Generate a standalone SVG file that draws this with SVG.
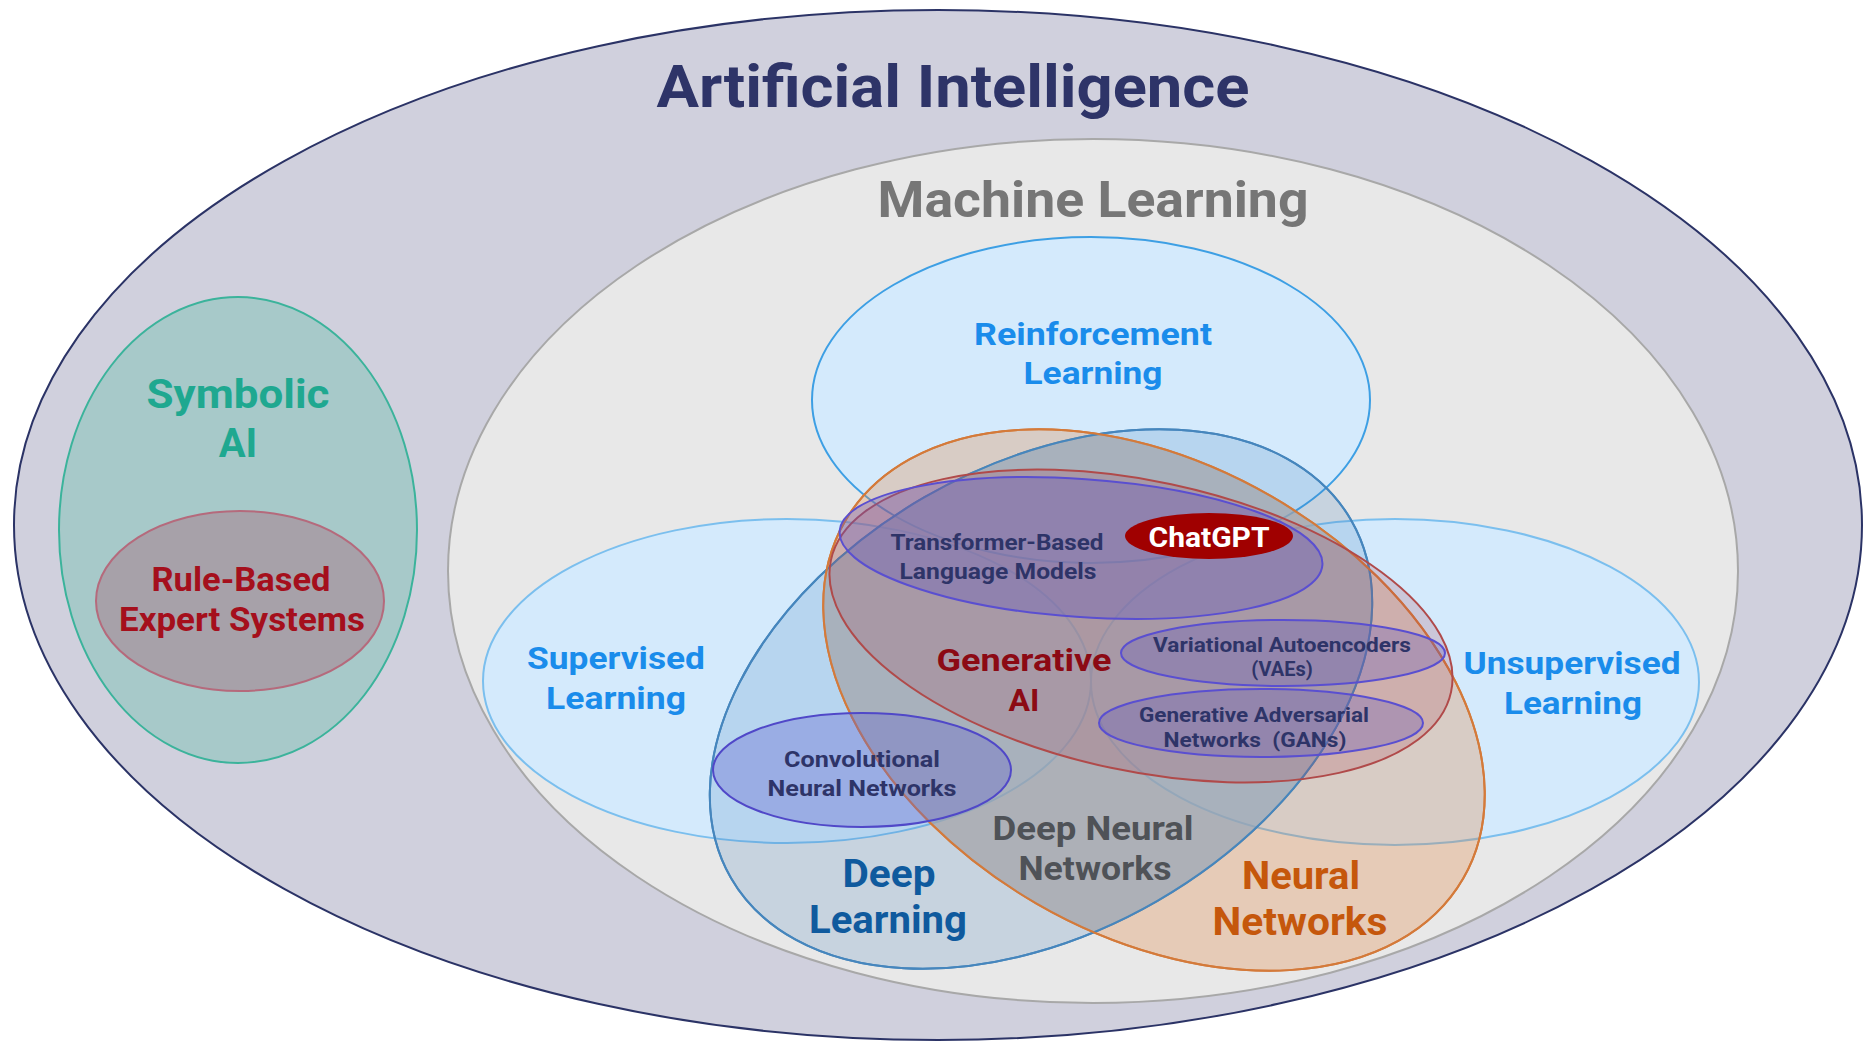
<svg xmlns="http://www.w3.org/2000/svg" width="1863" height="1042" viewBox="0 0 1863 1042">
<style>
text{font-family:Roboto,"Open Sans","Liberation Sans",sans-serif;font-weight:700;text-anchor:middle}
.ai{fill:#d0d0dd;stroke:#2b3366;stroke-width:2}
.ml{fill:#e8e8e8;stroke:#a8a8a8;stroke-width:2}
.lbl{fill:#d4eafc;stroke-width:2}
.blue{fill:#1a8ceb}
.navy{fill:#2e3468}
.sub{fill:rgba(100,90,190,0.3);stroke:#5a4fd0;stroke-width:2}
.dl{fill:rgba(70,130,190,0.2);stroke:#4686bd;stroke-width:2}
.nn{fill:rgba(225,135,70,0.3);stroke:#d47a3a;stroke-width:2}
</style>
<defs>
<ellipse id="dlShape" cx="1041" cy="699" rx="358" ry="233" transform="rotate(-30 1041 699)"/>
<ellipse id="nnShape" cx="1154" cy="700" rx="357" ry="235" transform="rotate(30 1154 700)"/>
<clipPath id="nnClip"><use href="#nnShape"/></clipPath>
</defs>
<rect width="1863" height="1042" fill="#ffffff"/>
<g id="artificial-intelligence">
<ellipse class="ai" cx="938" cy="525" rx="924" ry="515"/>
<text class="navy" x="953" y="107" font-size="59" textLength="593" lengthAdjust="spacingAndGlyphs">Artificial Intelligence</text>
</g>
<g id="symbolic-ai">
<ellipse cx="238" cy="530" rx="179" ry="233" fill="#a7c9c9" stroke="#3bb39b" stroke-width="2"/>
<text font-size="40" fill="#1fa890"><tspan x="238" y="408" textLength="183" lengthAdjust="spacingAndGlyphs">Symbolic</tspan><tspan x="238" y="457">AI</tspan></text>
</g>
<g id="rule-based-expert-systems">
<ellipse cx="240" cy="601" rx="144" ry="90" fill="#a7a1a9" stroke="#b56a7c" stroke-width="2"/>
<text font-size="33" fill="#a50f1c"><tspan x="241" y="591" textLength="179" lengthAdjust="spacingAndGlyphs">Rule-Based</tspan><tspan x="242" y="631" textLength="246" lengthAdjust="spacingAndGlyphs">Expert Systems</tspan></text>
</g>
<g id="machine-learning">
<ellipse class="ml" cx="1093" cy="571" rx="645" ry="432"/>
<text x="1093" y="217" font-size="50" fill="#767676" textLength="431" lengthAdjust="spacingAndGlyphs">Machine Learning</text>
</g>
<g id="reinforcement-learning">
<ellipse class="lbl" cx="1091" cy="400" rx="279" ry="163" stroke="#3d9fe4"/>
<text class="blue" font-size="32"><tspan x="1093" y="345" textLength="238" lengthAdjust="spacingAndGlyphs">Reinforcement</tspan><tspan x="1093" y="384" textLength="139" lengthAdjust="spacingAndGlyphs">Learning</tspan></text>
</g>
<g id="supervised-learning">
<ellipse class="lbl" cx="787" cy="681" rx="304" ry="162" stroke="#7bbfee"/>
<text class="blue" font-size="32"><tspan x="616" y="669" textLength="178" lengthAdjust="spacingAndGlyphs">Supervised</tspan><tspan x="616" y="709" textLength="140" lengthAdjust="spacingAndGlyphs">Learning</tspan></text>
</g>
<g id="unsupervised-learning">
<ellipse class="lbl" cx="1395" cy="682" rx="304" ry="163" stroke="#7bbfee"/>
<text class="blue" font-size="32"><tspan x="1572" y="674" textLength="217" lengthAdjust="spacingAndGlyphs">Unsupervised</tspan><tspan x="1573" y="714" textLength="138" lengthAdjust="spacingAndGlyphs">Learning</tspan></text>
</g>
<g id="deep-learning">
<use href="#dlShape" class="dl"/>
<text font-size="38" fill="#0f5a9e"><tspan x="889" y="887" textLength="93" lengthAdjust="spacingAndGlyphs">Deep</tspan><tspan x="888" y="933" textLength="158" lengthAdjust="spacingAndGlyphs">Learning</tspan></text>
</g>
<g id="neural-networks">
<use href="#nnShape" class="nn"/>
<text font-size="38" fill="#c5570c"><tspan x="1301" y="889" textLength="118" lengthAdjust="spacingAndGlyphs">Neural</tspan><tspan x="1300" y="935" textLength="175" lengthAdjust="spacingAndGlyphs">Networks</tspan></text>
</g>
<g id="deep-neural-networks">
<g clip-path="url(#nnClip)"><use href="#dlShape" fill="rgba(150,168,188,0.6)"/></g>
<use href="#dlShape" fill="none" stroke="#4686bd" stroke-width="2"/>
<use href="#nnShape" fill="none" stroke="#d47a3a" stroke-width="2"/>
<text font-size="33" fill="#4f5257"><tspan x="1093" y="840" textLength="201" lengthAdjust="spacingAndGlyphs">Deep Neural</tspan><tspan x="1095" y="880" textLength="153" lengthAdjust="spacingAndGlyphs">Networks</tspan></text>
</g>
<g id="generative-ai">
<ellipse cx="1141" cy="626" rx="317" ry="145" transform="rotate(12 1141 626)" fill="rgba(170,60,80,0.2)" stroke="#b04a4a" stroke-width="2"/>
<text font-size="32" fill="#8c0a14"><tspan x="1024" y="671" textLength="175" lengthAdjust="spacingAndGlyphs">Generative</tspan><tspan x="1024" y="711">AI</tspan></text>
</g>
<g id="transformer-based-language-models">
<ellipse class="sub" cx="1081" cy="548" rx="242" ry="69" transform="rotate(4 1081 548)" style="fill:rgba(100,90,190,0.35)"/>
<text class="navy" font-size="22"><tspan x="997" y="550" textLength="213" lengthAdjust="spacingAndGlyphs">Transformer-Based</tspan><tspan x="998" y="579" textLength="197" lengthAdjust="spacingAndGlyphs">Language Models</tspan></text>
</g>
<g id="chatgpt">
<ellipse cx="1209" cy="536" rx="84" ry="23" fill="#a00000"/>
<text x="1209" y="547" font-size="28" fill="#ffffff" textLength="121" lengthAdjust="spacingAndGlyphs">ChatGPT</text>
</g>
<g id="vaes">
<ellipse class="sub" cx="1283" cy="653" rx="162" ry="33"/>
<text class="navy" font-size="20"><tspan x="1282" y="652" textLength="258" lengthAdjust="spacingAndGlyphs">Variational Autoencoders</tspan><tspan x="1282" y="676">(VAEs)</tspan></text>
</g>
<g id="gans">
<ellipse class="sub" cx="1261" cy="723" rx="162" ry="34"/>
<text class="navy" font-size="20" xml:space="preserve"><tspan x="1254" y="722" textLength="230" lengthAdjust="spacingAndGlyphs">Generative Adversarial</tspan><tspan x="1255" y="747" textLength="183" lengthAdjust="spacingAndGlyphs">Networks  (GANs)</tspan></text>
</g>
<g id="cnn">
<ellipse cx="862" cy="770" rx="149" ry="57" fill="rgba(100,100,210,0.35)" stroke="#5048c8" stroke-width="2"/>
<text class="navy" font-size="22"><tspan x="862" y="767" textLength="156" lengthAdjust="spacingAndGlyphs">Convolutional</tspan><tspan x="862" y="796" textLength="189" lengthAdjust="spacingAndGlyphs">Neural Networks</tspan></text>
</g>
</svg>
